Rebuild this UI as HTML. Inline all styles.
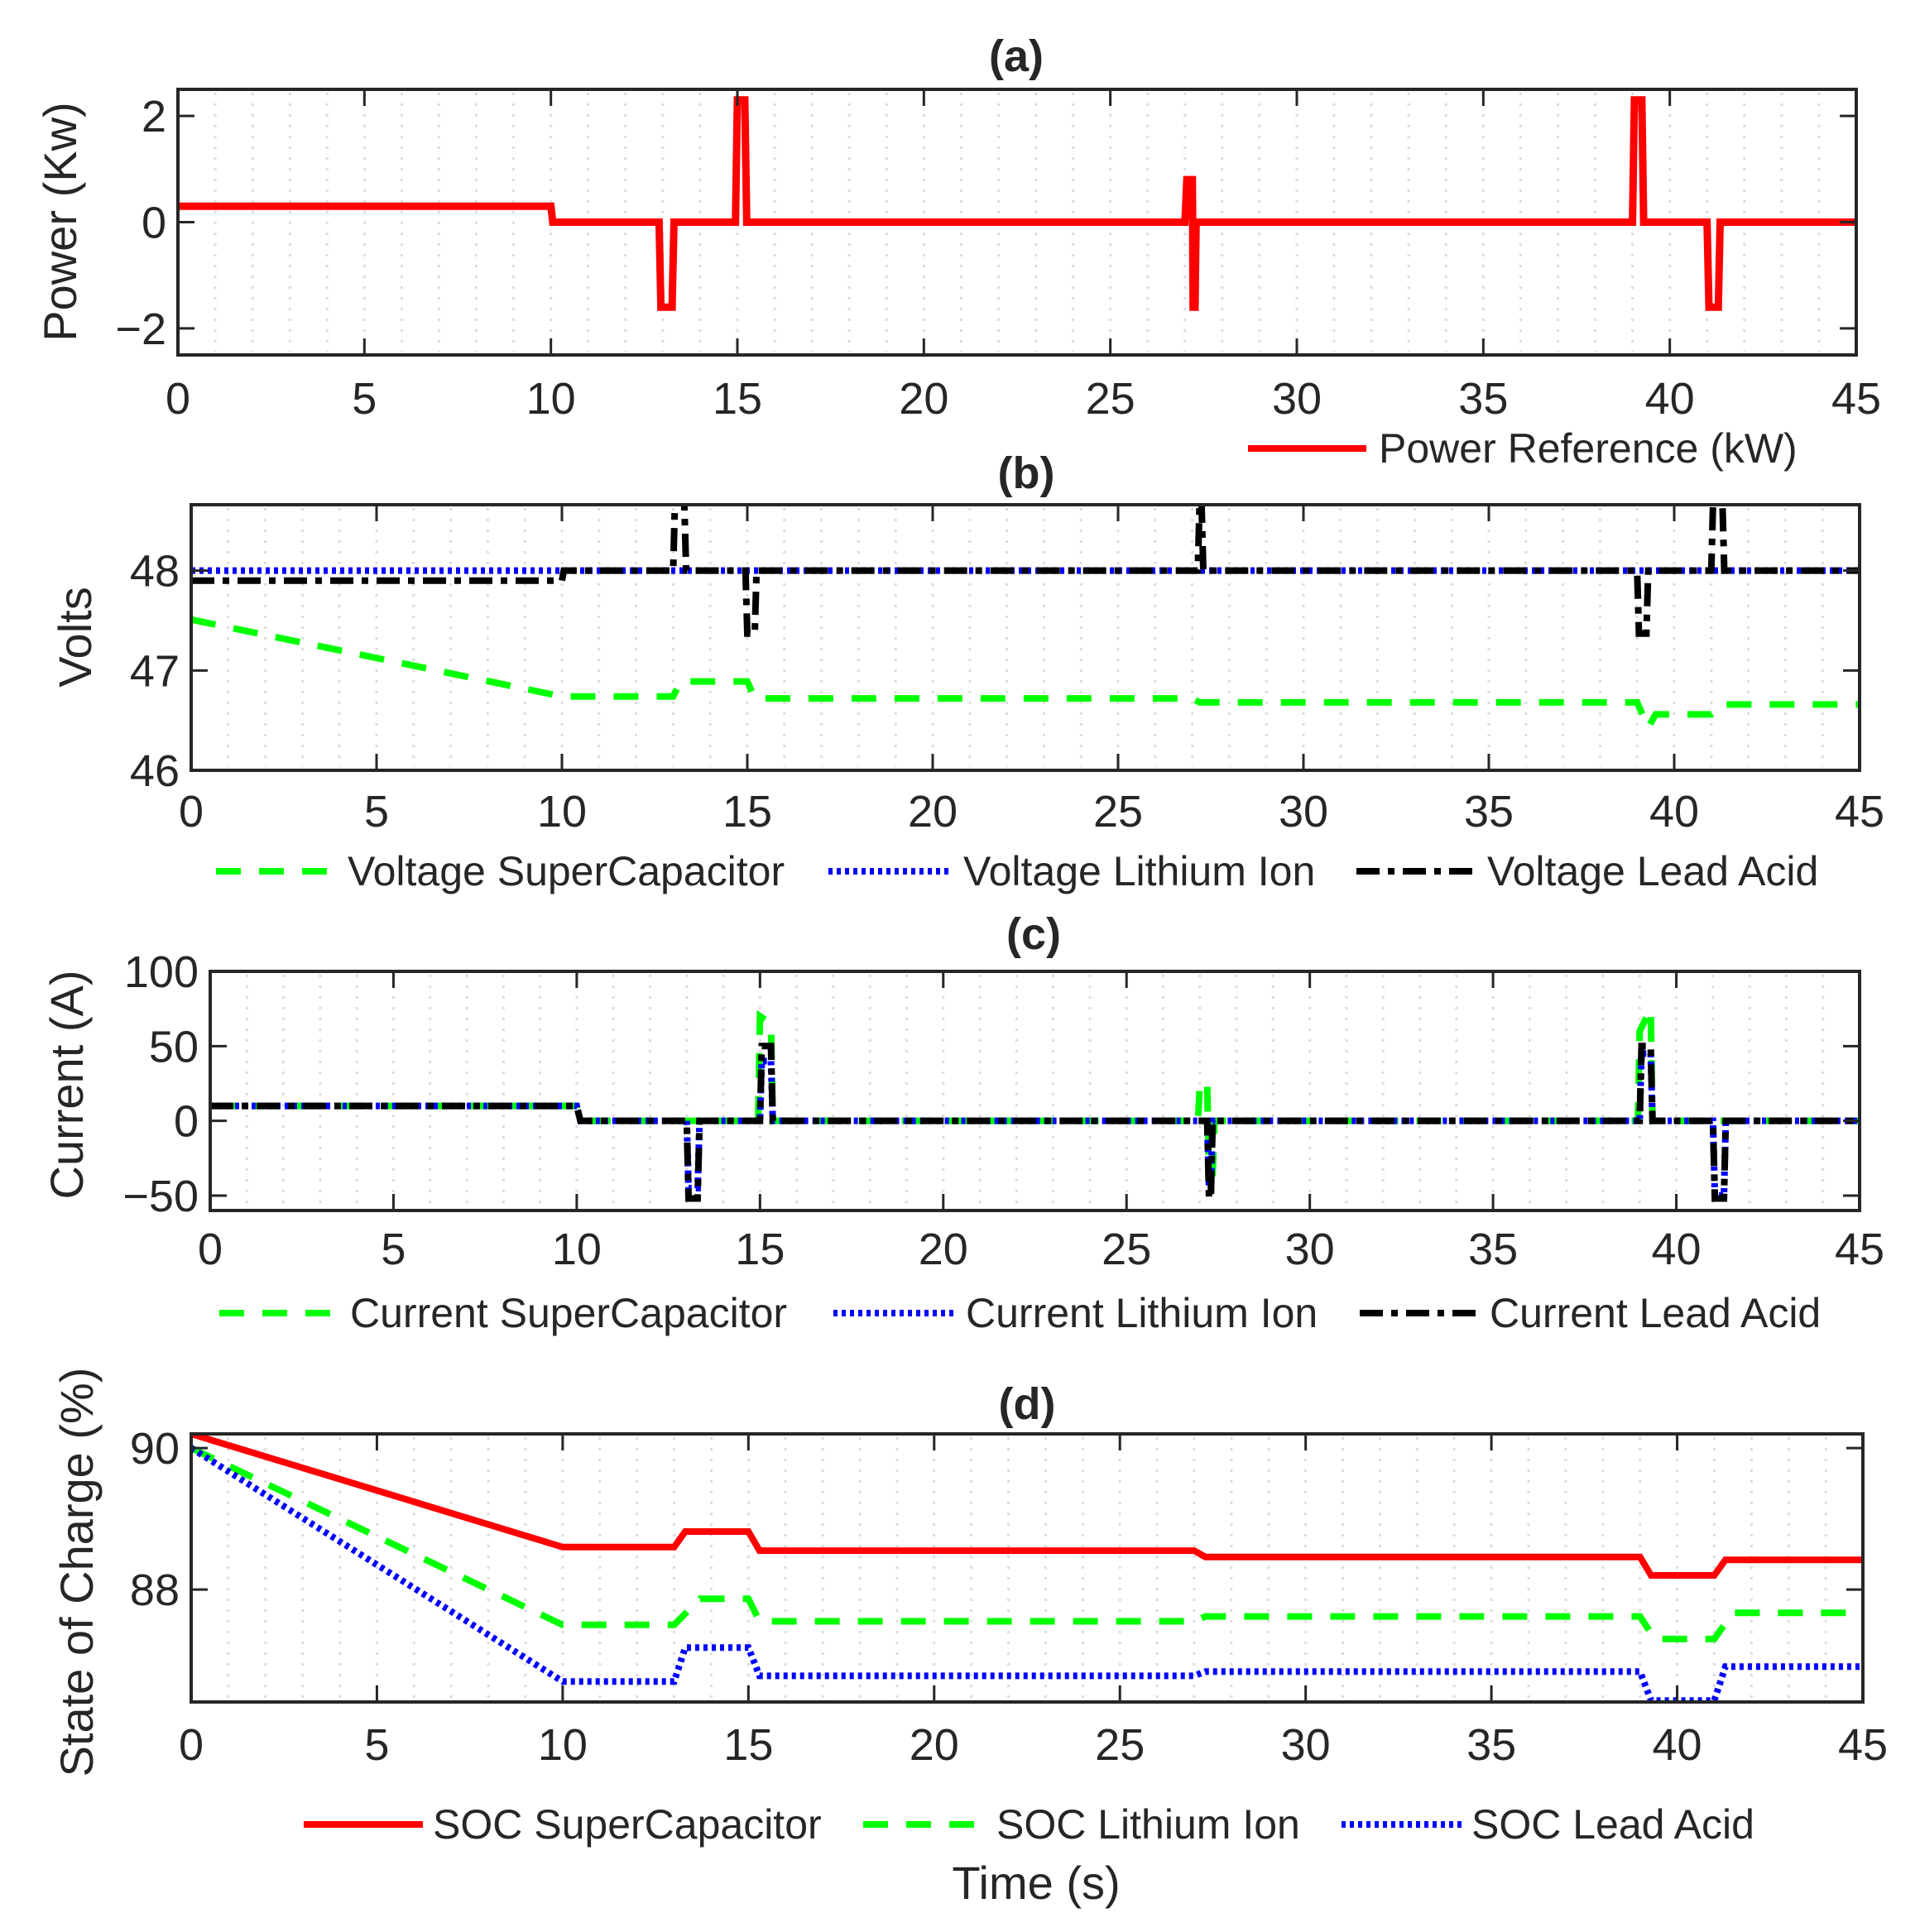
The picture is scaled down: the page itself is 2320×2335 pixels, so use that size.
<!DOCTYPE html>
<html><head><meta charset="utf-8"><style>
html,body{margin:0;padding:0;background:#fff}
svg{display:block}
text{font-family:"Liberation Sans",Arial,sans-serif;fill:#262626}
</style></head><body>
<svg id="fig" width="2320" height="2335" viewBox="0 0 2320 2335" xmlns="http://www.w3.org/2000/svg"></svg>
<script>
// ---- data ----
const xTicks = [0,5,10,15,20,25,30,35,40,45];
const powerT = [0,10,10.05,12.9,12.95,13.25,13.3,14.95,15,15.2,15.25,27,27.05,27.2,27.22,27.27,27.3,39,39.05,39.25,39.3,41,41.05,41.3,41.35,45];
const powerV = [0.3,0.3,0,0,-1.6,-1.6,0,0,2.3,2.3,0,0,0.8,0.8,-1.6,-1.6,0,0,2.3,2.3,0,0,-1.6,-1.6,0,0];
const powerTicks = [-2,0,2];
const voltLeadT = [0,10,10.05,13,13.05,13.3,13.35,14.95,15,15.2,15.25,27.15,27.2,27.25,27.3,39,39.05,39.25,39.3,41,41.05,41.3,41.35,45];
const voltLeadV = [47.9,47.9,48,48,48.7,48.7,48,48,47.37,47.37,48,48,48.7,48.7,48,48,47.37,47.37,48,48,48.7,48.7,48,48];
const voltLiT = [0,45];
const voltLiV = [48,48];
const voltScT = [0,10,13,13.2,15,15.2,27,27.2,39,39.3,39.5,41,41.3,45];
const voltScV = [47.51,46.74,46.74,46.89,46.89,46.72,46.72,46.68,46.68,46.43,46.56,46.56,46.66,46.66];
const voltTicks = [46,47,48];
const curLeadT = [0,10,10.1,13,13.05,13.3,13.35,15,15.05,15.3,15.35,27.2,27.25,27.3,27.35,39,39.05,39.3,39.35,41,41.05,41.3,41.35,45];
const curLeadV = [10,10,0,0,-52,-52,0,0,50,50,0,0,-52,-52,0,0,50,50,0,0,-52,-52,0,0];
const curLiT = [0,10,10.1,13,13.05,13.3,13.35,15,15.05,15.3,15.35,27.2,27.25,27.3,27.35,39,39.05,39.3,39.35,41,41.05,41.3,41.35,45];
const curLiV = [10,10,0,0,-45,-45,0,0,40,40,0,0,-45,-45,0,0,45,45,0,0,-50,-50,0,0];
const curScT = [0,10,10.1,14.95,15,15.3,15.35,26.95,27,27.2,27.25,27.35,27.4,38.95,39,39.3,39.35,45];
const curScV = [10,10,0,0,70,65,0,0,25,25,-35,-35,0,0,60,75,0,0];
const curTicks = [-50,0,50,100];
const socScT = [0,10,13,13.3,15,15.3,27,27.3,39,39.3,41,41.3,45];
const socScV = [90.2,88.6,88.6,88.82,88.82,88.55,88.55,88.46,88.46,88.2,88.2,88.42,88.42];
const socLiT = [0,10,13,13.7,15,15.3,27,27.3,39,39.4,41,41.5,45];
const socLiV = [90,87.5,87.5,87.87,87.87,87.55,87.55,87.62,87.62,87.3,87.3,87.67,87.67];
const socLeadT = [0,10,13,13.3,15,15.3,27,27.3,39,39.3,41,41.3,45];
const socLeadV = [90,86.7,86.7,87.18,87.18,86.78,86.78,86.84,86.84,86.43,86.43,86.91,86.91];
const socTicks = [88,90];

const NS = "http://www.w3.org/2000/svg";
const svg = document.getElementById('fig');
function el(tag, attrs, parent){const e=document.createElementNS(NS,tag);for(const k in attrs)e.setAttribute(k,attrs[k]);(parent||svg).appendChild(e);return e;}
const STY = {
 red:{stroke:'#ff0000',dash:'none'},
 green:{stroke:'#00ff00',dash:'30 22'},
 blue:{stroke:'#0000ff',dash:'5 5'},
 black:{stroke:'#000000',dash:'28 10 8 10'}
};
let clipId=0;
function panel(cfg){
 const g=el('g',{});
 
 
 const {L,R,T,B,ymin,ymax}=cfg;
 const xs=v=>L+(v-0)/45*(R-L);
 const ys=v=>B-(v-ymin)/(ymax-ymin)*(B-T);
 for(let i=1;i<45;i++){
  const gl=el('line',{x1:xs(i),x2:xs(i),y1:T+4,y2:B-4,stroke:'#dcdcdc','stroke-width':3,'stroke-dasharray':'3 10'},g);
  
  
 }
 const cid='c'+(clipId++);
 const cp=el('clipPath',{id:cid},g);
 el('rect',{x:L,y:T,width:R-L,height:B-T},cp);
 for(const s of cfg.series){
  const pts=s.t.map((t,i)=>xs(t).toFixed(1)+','+ys(s.v[i]).toFixed(1)).join(' ');
  const pl=el('polyline',{points:pts,fill:'none',stroke:STY[s.c].stroke,'stroke-width':s.w||8,'stroke-dasharray':STY[s.c].dash,'stroke-linejoin':'miter','clip-path':'url(#'+cid+')'},g);
  
  
 }
 const bx=el('rect',{x:L,y:T,width:R-L,height:B-T,fill:'none',stroke:'#262626','stroke-width':4},g);
 
 
 for(const t of xTicks){
  el('line',{x1:xs(t),x2:xs(t),y1:B,y2:B-20,stroke:'#262626','stroke-width':3},g);
  el('line',{x1:xs(t),x2:xs(t),y1:T,y2:T+20,stroke:'#262626','stroke-width':3},g);
  const tx=el('text',{x:xs(t),y:cfg.xl,'font-size':54,'text-anchor':'middle'},g);
  tx.textContent=t;
  
  
 }
 for(const t of cfg.yt){
  el('line',{x1:L,x2:L+20,y1:ys(t),y2:ys(t),stroke:'#262626','stroke-width':3},g);
  el('line',{x1:R,x2:R-20,y1:ys(t),y2:ys(t),stroke:'#262626','stroke-width':3},g);
  const tx=el('text',{x:L-14,y:ys(t)+19,'font-size':54,'text-anchor':'end'},g);
  tx.textContent=String(t).replace('-','\u2212');
  
  
 }
 const yl=el('text',{x:0,y:0,'font-size':56,'text-anchor':'middle',transform:`translate(${cfg.ylx},${cfg.yly}) rotate(-90)`},g);
 yl.textContent=cfg.ylabel;
 
 
 const ti=el('text',{x:cfg.tx,y:cfg.ty+19,'font-size':54,'font-weight':'bold','text-anchor':'middle'},g);
 ti.textContent=cfg.title;
 
 
 for(const e of cfg.legend){
  const lg=el('g',{},g);
  
  
  el('line',{x1:e.x1,x2:e.x2,y1:cfg.ly,y2:cfg.ly,stroke:STY[e.c].stroke,'stroke-width':8,'stroke-dasharray':STY[e.c].dash},lg);
  const lt=el('text',{x:e.tx,y:cfg.ly+17,'font-size':50},lg);
  lt.textContent=e.label;
 }
}
panel({name:'panel-a-power',L:215,R:2243,T:108,B:429,ymin:-2.5,ymax:2.5,yt:powerTicks,xl:500,
 ylabel:'Power (Kw)',ylx:92,yly:268,title:'(a)',tx:1228,ty:67,ly:542,
 series:[{t:powerT,v:powerV,c:'red',w:9,n:'power-reference-line'}],
 legend:[{x1:1508,x2:1651,tx:1666,c:'red',label:'Power Reference (kW)'}]});
panel({name:'panel-b-voltage',L:231,R:2247,T:610,B:931,ymin:46,ymax:48.66,yt:voltTicks,xl:999,
 ylabel:'Volts',ylx:110,yly:770,title:'(b)',tx:1240,ty:571,ly:1053,
 series:[{t:voltScT,v:voltScV,c:'green',n:'voltage-supercapacitor-line'},{t:voltLiT,v:voltLiV,c:'blue',n:'voltage-lithium-ion-line'},{t:voltLeadT,v:voltLeadV,c:'black',n:'voltage-lead-acid-line'}],
 legend:[{x1:261,x2:405,tx:420,c:'green',label:'Voltage SuperCapacitor'},{x1:1001,x2:1150,tx:1164,c:'blue',label:'Voltage Lithium Ion'},{x1:1639,x2:1784,tx:1797,c:'black',label:'Voltage Lead Acid'}]});
panel({name:'panel-c-current',L:254,R:2247,T:1174,B:1463,ymin:-60,ymax:100,yt:curTicks,xl:1528,
 ylabel:'Current (A)',ylx:100,yly:1311,title:'(c)',tx:1249,ty:1128,ly:1587,
 series:[{t:curScT,v:curScV,c:'green',n:'current-supercapacitor-line'},{t:curLiT,v:curLiV,c:'blue',n:'current-lithium-ion-line'},{t:curLeadT,v:curLeadV,c:'black',n:'current-lead-acid-line'}],
 legend:[{x1:265,x2:410,tx:423,c:'green',label:'Current SuperCapacitor'},{x1:1007,x2:1152,tx:1167,c:'blue',label:'Current Lithium Ion'},{x1:1643,x2:1788,tx:1800,c:'black',label:'Current Lead Acid'}]});
panel({name:'panel-d-soc',L:231,R:2251,T:1733,B:2057,ymin:86.41,ymax:90.2,yt:socTicks,xl:2127,
 ylabel:'State of Charge (%)',ylx:112,yly:1900,title:'(d)',tx:1241,ty:1696,ly:2205,
 series:[{t:socScT,v:socScV,c:'red',n:'soc-supercapacitor-line'},{t:socLiT,v:socLiV,c:'green',n:'soc-lithium-ion-line'},{t:socLeadT,v:socLeadV,c:'blue',n:'soc-lead-acid-line'}],
 legend:[{x1:367,x2:511,tx:523,c:'red',label:'SOC SuperCapacitor'},{x1:1043,x2:1189,tx:1204,c:'green',label:'SOC Lithium Ion'},{x1:1621,x2:1766,tx:1778,c:'blue',label:'SOC Lead Acid'}]});
const xt=el('text',{x:1252,y:2295,'font-size':56,'text-anchor':'middle'});
xt.textContent='Time (s)';


</script>
</body></html>
